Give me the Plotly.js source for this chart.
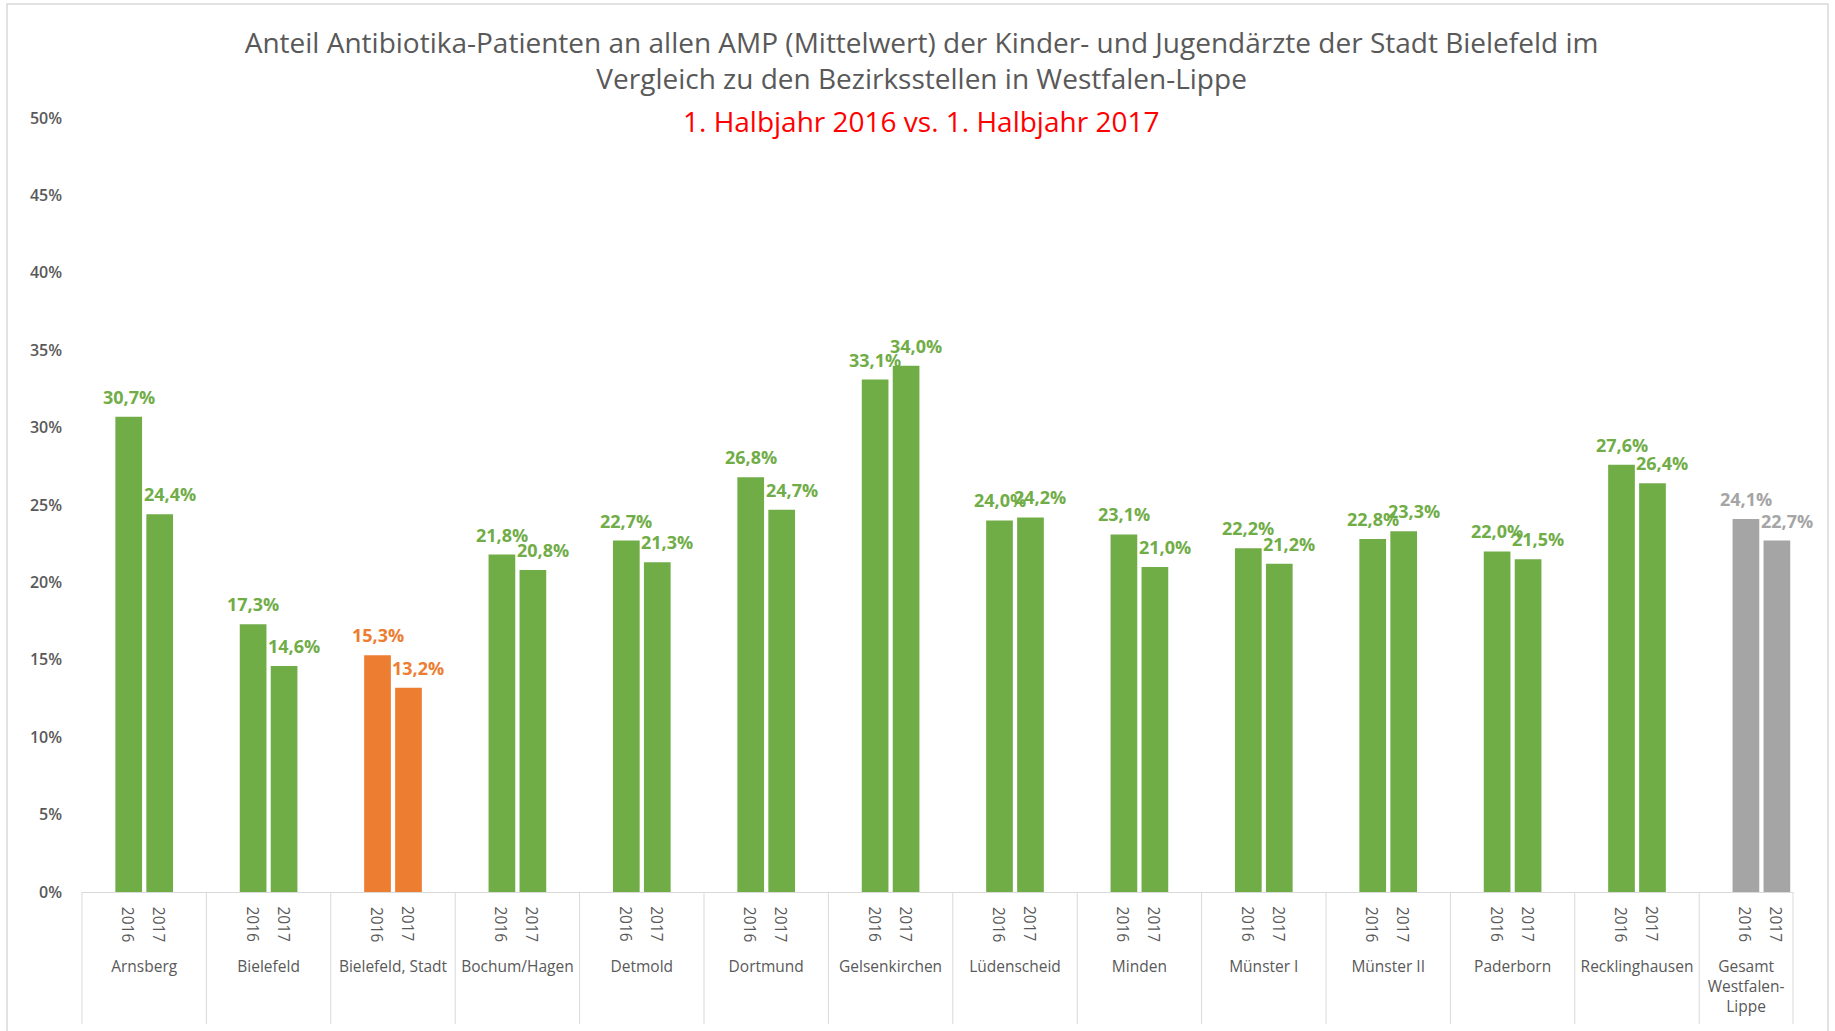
<!DOCTYPE html>
<html>
<head>
<meta charset="utf-8">
<script src="https://cdn.plot.ly/plotly-3.0.1.min.js"></script>
<style>html,body{margin:0;padding:0;background:#fff;}#chart{width:1835px;height:1031px;}</style>
</head>
<body>
<div id="chart"></div>
<script>
// ---- data ----
const regions = ['Arnsberg','Bielefeld','Bielefeld, Stadt','Bochum/Hagen','Detmold','Dortmund','Gelsenkirchen','Lüdenscheid','Minden','Münster I','Münster II','Paderborn','Recklinghausen','Gesamt<br>Westfalen-<br>Lippe'];
const years = ['2016','2017'];
const values2016 = [30.7,17.3,15.3,21.8,22.7,26.8,33.1,24.0,23.1,22.2,22.8,22.0,27.6,24.1];
const values2017 = [24.4,14.6,13.2,20.8,21.3,24.7,34.0,24.2,21.0,21.2,23.3,21.5,26.4,22.7];
const yTicks = [0,5,10,15,20,25,30,35,40,45,50];
const titleLines = ['Anteil Antibiotika-Patienten an allen AMP (Mittelwert) der Kinder- und Jugendärzte der Stadt Bielefeld im','Vergleich zu den Bezirksstellen in Westfalen-Lippe'];
const subtitleText = '1. Halbjahr 2016 vs. 1. Halbjahr 2017';

// ---- styling ----
const GREEN = '#70AD47', ORANGE = '#ED7D31', GREY = '#A5A5A5', TXT = '#595959', LINE = '#D9D9D9';
const FONT = 'Open Sans, Noto Sans, sans-serif';
function colorFor(r){ return r === 'Bielefeld, Stadt' ? ORANGE : (r.indexOf('Gesamt') === 0 ? GREY : GREEN); }
const colors = regions.map(colorFor);

const W = 1835, H = 1031;
const M = {l:82, r:42, t:118, b:139};
const plotW = W - M.l - M.r, plotH = H - M.t - M.b;
const xMin = -0.5, xMax = 13.254;
const bargap = 0.502, bargroupgap = 0.138;
const half = (1 - bargap) / 4; // offset of each bar centre from category centre
const nCat = regions.length;
// label of the (truncated) last category is centred on its visible part
const tickPos = regions.map((r, i) => i === nCat - 1 ? (i - 0.5 + xMax) / 2 : i);

const fmt = v => v.toFixed(1).replace('.', ',') + '%';

const traces = [
  {type:'bar', name:years[0], x:regions, y:values2016, marker:{color:colors}, hoverinfo:'x+y'},
  {type:'bar', name:years[1], x:regions, y:values2017, marker:{color:colors}, hoverinfo:'x+y'}
];

const annotations = [];
const shapes = [];
regions.forEach((r, i) => {
  [values2016, values2017].forEach((vals, k) => {
    const xc = i + (k === 0 ? -half : half);
    annotations.push({x:xc, y:vals[i], xref:'x', yref:'y', text:fmt(vals[i]), showarrow:false,
      xanchor:'center', yanchor:'middle', yshift:20, xshift:(k === 0 ? 0 : 10),
      font:{family:FONT, size:18, weight:700, color:colors[i]}});
    annotations.push({x:xc, y:-(924.5 - (H - M.b)) / plotH, xref:'x', yref:'paper', text:years[k], showarrow:false,
      xanchor:'center', yanchor:'middle', textangle:90, font:{family:FONT, size:15.5, color:TXT}});
  });
});
// subtitle (red line)
annotations.push({x:(921 - M.l)/plotW, y:((H - M.b) - 120.5)/plotH, xref:'paper', yref:'paper', text:subtitleText,
  xanchor:'center', yanchor:'middle', showarrow:false, font:{family:FONT, size:28, color:'#FF0000'}});

// category dividers
const divBottom = -(1024 - (H - M.b)) / plotH;
for (let k = 0; k <= nCat; k++) {
  const xv = Math.min(k - 0.5, xMax);
  const px = (xv - xMin) / (xMax - xMin);
  shapes.push({type:'line', xref:'paper', yref:'paper', x0:px, x1:px, y0:0, y1:divBottom, line:{color:LINE, width:1}});
}
// outer chart border
shapes.push({type:'rect', xref:'paper', yref:'paper',
  x0:(7 - M.l)/plotW, x1:(1828 - M.l)/plotW, y0:((H - M.b) - 1045)/plotH, y1:((H - M.b) - 4)/plotH,
  line:{color:LINE, width:1.5}, fillcolor:'rgba(0,0,0,0)', layer:'below'});

const layout = {
  width:W, height:H, margin:M,
  paper_bgcolor:'#fff', plot_bgcolor:'#fff',
  barmode:'group', bargap:bargap, bargroupgap:bargroupgap, showlegend:false,
  title:{text:titleLines.join('<br>'), x:921.6/W, xanchor:'center', xref:'container',
    y:1 - 52.7/H, yanchor:'middle', yref:'container',
    font:{family:FONT, size:28, color:TXT}},
  xaxis:{type:'category', range:[xMin, xMax], showline:true, linecolor:LINE, linewidth:1,
    tickmode:'array', tickvals:tickPos, ticktext:regions,
    ticks:'', ticklabelstandoff:60, tickfont:{family:FONT, size:15.5, color:TXT}, showgrid:false, zeroline:false, fixedrange:true},
  yaxis:{range:[0,50], tickmode:'array', tickvals:yTicks, ticktext:yTicks.map(v => v + '%'),
    showgrid:false, zeroline:false, showline:false, ticks:'', ticklabelstandoff:19,
    tickfont:{family:FONT, size:16, weight:600, color:TXT}, fixedrange:true},
  annotations:annotations, shapes:shapes
};

Plotly.newPlot('chart', traces, layout, {displayModeBar:false, staticPlot:true});
</script>
</body>
</html>
